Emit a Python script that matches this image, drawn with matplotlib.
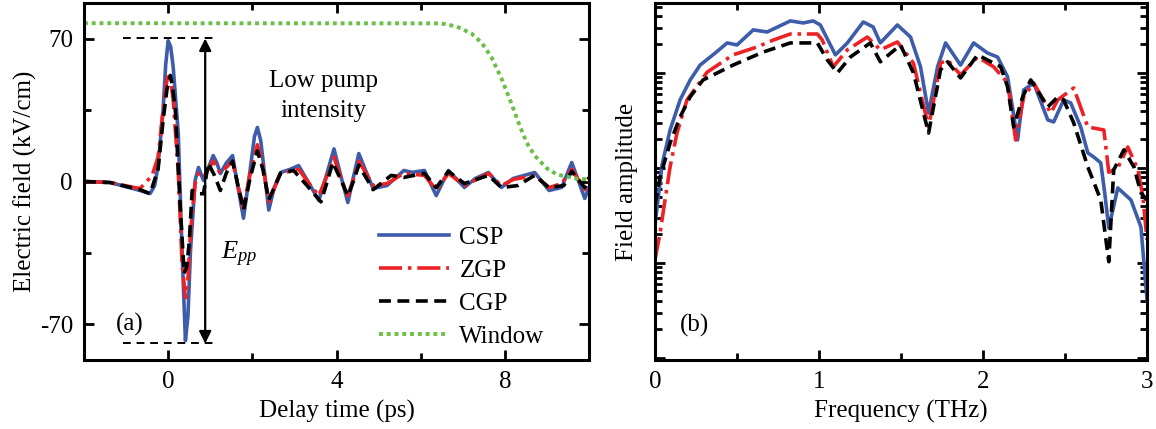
import numpy as np
import matplotlib
matplotlib.use("Agg")
import matplotlib.pyplot as plt
from matplotlib.ticker import MultipleLocator, LogLocator, NullFormatter

plt.rcParams['font.family'] = ['Liberation Serif', 'DejaVu Serif']
plt.rcParams['mathtext.fontset'] = 'custom'
plt.rcParams['mathtext.it'] = 'Liberation Serif:italic'
plt.rcParams['mathtext.rm'] = 'Liberation Serif'
plt.rcParams['axes.unicode_minus'] = False
plt.rcParams['font.size'] = 18

# ---- (a) time-domain traces (kV/cm vs ps) ----
t_csp = [-2.0, -1.38, -0.67, -0.43, -0.32, -0.24, -0.12, -0.06, 0.0, 0.06, 0.12, 0.24, 0.33, 0.41,
         0.47, 0.53, 0.64, 0.72, 0.84, 0.96, 1.07, 1.16, 1.24, 1.38, 1.53, 1.66, 1.79, 1.95, 2.05,
         2.12, 2.2, 2.39, 2.52, 2.67, 2.9, 3.1, 3.35, 3.58, 3.76, 3.94, 4.1, 4.27, 4.4, 4.53,
         4.7, 4.87, 5.2, 5.6, 5.8, 6.09, 6.37, 6.66, 7.04, 7.3, 7.61, 7.92, 8.2, 8.71, 9.05,
         9.35, 9.59, 9.9, 10.0]
e_csp = [0.0, -0.5, -4.4, -5.9, -2.0, 7.8, 35, 57, 69, 66, 56, 23.5, -34, -78,
         -66, -34, 0.5, 6.9, 0.5, 7.0, 12.7, 9.0, 3.9, 9.0, 12.7, -3.0, -18, 6.0, 22,
         26.5, 20, -14, -3.0, 4.4, 6.0, 7.8, -1.0, -9.3, 3.0, 16, 3.0, -10.3, 2.0, 13.7,
         5.0, -3.4, -2.0, 5.4, 4.5, 5.4, -6.9, 5.4, -2.9, 1.5, 4.4, -2.9, 1.5, 4.4, -4.4,
         -2.9, 9.3, -8.3, -2.9]

t_zgp = [-2.0, -1.38, -0.67, -0.38, -0.24, -0.12, -0.05, 0.0, 0.06, 0.12, 0.24, 0.33, 0.41, 0.47,
         0.53, 0.64, 0.72, 0.84, 1.07, 1.24, 1.53, 1.66, 1.79, 1.95, 2.12, 2.25, 2.39, 2.67, 3.1,
         3.35, 3.58, 3.76, 3.94, 4.1, 4.27, 4.4, 4.53, 4.87, 5.2, 5.6, 6.09, 6.37, 6.66, 7.04,
         7.61, 7.92, 8.2, 8.71, 9.05, 9.35, 9.59, 9.9, 10.0]
e_zgp = [0.0, -0.5, -3.5, 3.0, 12, 35, 47, 53, 50, 40, 5, -40, -57, -48,
         -25, -1, 4, 2, 10, 4, 10, -2, -13, 4, 18, 8, -10, 4, 6,
         -1, -7, 2, 12, 2, -7, 1, 10, -2, -1, 4, 3, -4, 4, -2,
         4, -2, 1, 3, -3, -1, 6, -4, 0]

t_cgp = [-2.0, -1.38, -0.67, -0.43, -0.24, -0.12, -0.03, 0.05, 0.1, 0.17, 0.28, 0.38, 0.44, 0.5,
         0.57, 0.72, 0.84, 0.95, 1.1, 1.24, 1.38, 1.53, 1.66, 1.79, 1.95, 2.12, 2.25, 2.39, 2.67,
         2.98, 3.3, 3.63, 3.78, 3.91, 4.1, 4.27, 4.4, 4.53, 4.87, 5.3, 5.6, 6.09, 6.37, 6.66,
         7.04, 7.61, 7.92, 8.3, 8.71, 9.05, 9.4, 9.59, 9.9, 10.0]
e_cgp = [0.0, -0.5, -4, -6, 6, 30, 45, 52, 47, 35, -10, -45, -42, -30,
         -4.4, -6, -6, 9, 3, -4.4, 4, 10, -2, -14, 2, 15, 6, -9, 4,
         5.4, -2, -10, 0, 9.3, 1, -7, 0, 8, -4, 3, 2, 4, -3, 5,
         -1, 3, -3, -2, 3, -3, -2, 5, -3, 2]

t_win = [-2.0, 6.49, 6.85, 7.21, 7.45, 7.68, 7.92, 8.16, 8.35, 8.52, 8.71, 9.0, 9.24, 9.67, 10.0]
e_win = [77.6, 77.5, 76, 72.5, 68, 61, 50.5, 38, 27.5, 19, 12.7, 6.4, 3.4, 1.5, 1.0]

e_pp_top = 70.1
e_pp_bot = -79.4

# ---- (b) spectra (normalised amplitude vs THz) ----
f_csp = [0.0, 0.043, 0.092, 0.153, 0.214, 0.275, 0.367, 0.44, 0.50, 0.599, 0.684, 0.825, 0.904, 0.965,
         1.008, 1.10, 1.173, 1.27, 1.33, 1.374, 1.478, 1.558, 1.619, 1.668, 1.723, 1.772, 1.863, 1.943,
         2.028, 2.089, 2.15, 2.211, 2.248, 2.309, 2.395, 2.431, 2.492, 2.535, 2.596, 2.639, 2.676,
         2.718, 2.742, 2.767, 2.822, 2.902, 2.963, 3.0]
a_csp = [0.025, 0.108, 0.251, 0.52, 0.84, 1.21, 1.62, 2.07, 1.97, 2.84, 2.70, 3.53, 3.36, 3.53,
         3.20, 1.55, 2.07, 3.44, 3.05, 2.07, 3.20, 2.39, 1.16, 0.379, 1.16, 2.07, 1.21, 2.07,
         1.62, 1.47, 0.908, 0.197, 0.662, 0.785, 0.32, 0.305, 0.52, 0.483, 0.270, 0.144, 0.13,
         0.113, 0.055, 0.0233, 0.0616, 0.046, 0.0239, 0.0041]

f_zgp = [0.0, 0.031, 0.061, 0.092, 0.134, 0.195, 0.318, 0.476, 0.623, 0.721, 0.825, 0.99, 1.02,
         1.087, 1.173, 1.295, 1.374, 1.478, 1.576, 1.668, 1.741, 1.784, 1.863, 1.967, 2.065, 2.15,
         2.199, 2.248, 2.309, 2.413, 2.456, 2.553, 2.639, 2.737, 2.767, 2.822, 2.883, 2.945, 2.975, 3.0]
a_zgp = [0.0108, 0.0207, 0.046, 0.1025, 0.233, 0.52, 1.02, 1.55, 1.88, 2.22, 2.57, 2.57, 2.22,
         1.16, 1.75, 2.39, 1.75, 2.12, 1.27, 0.27, 1.27, 1.37, 0.953, 1.47, 1.16, 0.785,
         0.197, 0.559, 0.785, 0.379, 0.52, 0.695, 0.27, 0.251, 0.09, 0.1, 0.166, 0.0953, 0.0495, 0.0175]

f_cgp = [0.0, 0.031, 0.092, 0.153, 0.214, 0.293, 0.476, 0.66, 0.825, 0.99, 1.051, 1.112, 1.191,
         1.313, 1.374, 1.497, 1.576, 1.668, 1.741, 1.784, 1.863, 1.967, 2.108, 2.15, 2.187, 2.242,
         2.291, 2.395, 2.456, 2.492, 2.553, 2.639, 2.718, 2.767, 2.797, 2.859, 2.92, 2.963, 3.0]
a_cgp = [0.0408, 0.0804, 0.183, 0.344, 0.559, 0.844, 1.21, 1.66, 2.07, 2.07, 1.37, 1.0, 1.47,
         2.07, 1.31, 1.97, 1.0, 0.233, 1.08, 1.31, 0.886, 1.55, 1.16, 0.712, 0.27, 0.559,
         0.844, 0.439, 0.559, 0.52, 0.298, 0.1025, 0.046, 0.0103, 0.0953, 0.155, 0.1025, 0.0546, 0.046]

BLUE = '#3d5dab'
RED = '#ec2227'
GREEN = '#6abf45'


def style_axes(ax):
    for s in ax.spines.values():
        s.set_linewidth(2.2)
    ax.tick_params(which='both', direction='in', top=True, right=True, width=2.0,
                   labelsize=18, pad=8)
    ax.tick_params(which='major', length=7)
    ax.tick_params(which='minor', length=5)


fig = plt.figure(figsize=(11.56, 4.29), dpi=100)
ax1 = fig.add_axes([84 / 1156, 69 / 429, 505 / 1156, 357 / 429])
ax2 = fig.add_axes([655 / 1156, 69 / 429, 492 / 1156, 357 / 429])

# panel (a)
ax1.plot(t_csp, e_csp, color=BLUE, lw=2.6, label='CSP')
ax1.plot(t_zgp, e_zgp, color=RED, lw=2.6, ls='-.', label='ZGP')
ax1.plot(t_cgp, e_cgp, color='black', lw=2.6, ls=(0, (3.3, 1.8)), label='CGP')
ax1.plot(t_win, e_win, color=GREEN, lw=2.8, ls=(0, (1, 1)), label='Window')
ax1.hlines([e_pp_top, e_pp_bot], -1.07, 1.17, colors='black', lw=1.4, linestyles=(0, (4, 3)))
ax1.annotate('', xy=(0.88, e_pp_top), xytext=(0.88, e_pp_bot),
             arrowprops=dict(arrowstyle='<|-|>', color='black', lw=1.6,
                             mutation_scale=18, shrinkA=0, shrinkB=0))
ax1.text(1.25, -38, '$E_{pp}$', fontsize=19)
ax1.text(3.7, 42, 'Low pump\nintensity', ha='center', va='center', fontsize=18, linespacing=1.45)
ax1.text(-1.25, -70, '(a)', fontsize=18, va='center')
ax1.set_xlim(-2, 10)
ax1.set_ylim(-87.5, 87.5)
ax1.xaxis.set_major_locator(MultipleLocator(4))
ax1.xaxis.set_minor_locator(MultipleLocator(2))
ax1.set_yticks([-70, 0, 70])
ax1.yaxis.set_minor_locator(MultipleLocator(35))
ax1.set_xlabel('Delay time (ps)', fontsize=18, labelpad=5)
ax1.set_ylabel('Electric field (kV/cm)', fontsize=18, labelpad=2)
style_axes(ax1)
ax1.legend(loc='lower left', bbox_to_anchor=(0.585, 0.035), frameon=False, fontsize=18,
           handlelength=2.8, handletextpad=0.4, labelspacing=0.42, borderpad=0, borderaxespad=0)

# panel (b)
ax2.plot(f_csp, a_csp, color=BLUE, lw=2.6)
ax2.plot(f_zgp, a_zgp, color=RED, lw=2.6, ls='-.')
ax2.plot(f_cgp, a_cgp, color='black', lw=2.6, ls=(0, (3.3, 1.8)))
ax2.set_yscale('log')
ax2.set_xlim(0, 3)
ax2.set_ylim(9.5e-4, 5.45)
ax2.xaxis.set_major_locator(MultipleLocator(1))
ax2.xaxis.set_minor_locator(MultipleLocator(0.5))
ax2.yaxis.set_major_locator(LogLocator(base=10))
ax2.yaxis.set_minor_locator(LogLocator(base=10, subs=np.arange(2, 10)))
ax2.yaxis.set_major_formatter(NullFormatter())
ax2.yaxis.set_minor_formatter(NullFormatter())
ax2.text(0.15, 2.2e-3, '(b)', fontsize=18, va='center')
ax2.set_xlabel('Frequency (THz)', fontsize=18, labelpad=5)
ax2.set_ylabel('Field amplitude', fontsize=18, labelpad=4)
style_axes(ax2)

fig.savefig('out.png', dpi=100)
